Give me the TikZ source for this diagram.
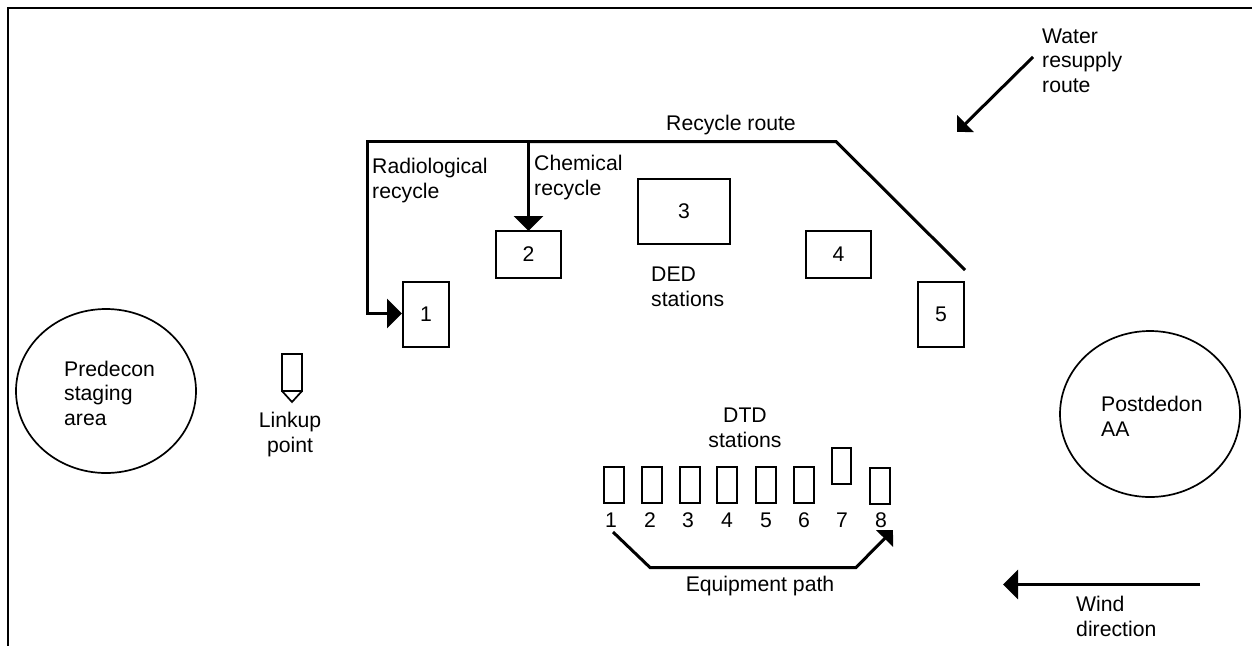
\documentclass[tikz,border=0pt]{standalone}
\usepackage{fontspec}
\setmainfont{Liberation Sans}
\usetikzlibrary{arrows.meta}
\tikzset{
  x=1pt,y=-1pt,
  every node/.style={font=\fontsize{21.2}{24.5}\selectfont},
  lab/.style={anchor=base west,align=left,inner sep=0pt},
  labc/.style={anchor=base,align=center,inner sep=0pt},
  boxc/.style={draw,line width=2pt,inner sep=0pt,outer sep=0pt},
  route/.style={line width=3pt,line join=miter},
  thinroute/.style={line width=3pt,line join=miter},
  bighead/.style={-{Triangle[length=15pt,width=29pt]}},
  smallhead/.style={-{Triangle[length=12pt,width=23pt]}},
}
\newcommand{\bx}[5]{\node[boxc,anchor=north west,minimum width=#4-#2,minimum height=#5-#3] (#1) at (#2,#3) {};}
\begin{document}
\begin{tikzpicture}
\useasboundingbox (0,0) rectangle (1252,646);
% frame
\coordinate (fa) at (1252,8); \coordinate (fb) at (8,8); \coordinate (fc) at (8,646);
\draw[line width=2pt] (fa) -- (fb) -- (fc);
% ellipses
\draw[line width=1.7pt] (106,391) ellipse [x radius=90,y radius=82];
\draw[line width=1.7pt] (1150,414) ellipse [x radius=90,y radius=83];
\node[lab] (pre) at (64,425) {Predecon\\staging\\area};
\node[lab] (post) at (1101,436) {Postdedon\\AA};
% linkup
\draw[line width=1.7pt] (282,354) rectangle (302,391);
\draw[line width=1.7pt] (282,391) -- (292,402) -- (302,391);
\node[labc] (link) at (290,452) {Linkup\\point};
% DED boxes
\bx{b1}{403}{282}{449}{347} \node at (b1) {1};
\bx{b2}{496}{231}{561}{278} \node at (b2) {2};
\bx{b3}{638}{179}{730}{244} \node at (b3) {3};
\bx{b4}{806}{231}{871}{278} \node at (b4) {4};
\bx{b5}{918}{282}{964}{347} \node at (b5) {5};
\node[lab] (ded) at (651,306) {DED\\stations};
% recycle routes
\coordinate (r0) at (367.5,141.5); \coordinate (r1) at (b2.north |- r0); \coordinate (r2) at (836,141.5); \coordinate (r3) at (965,270);
\coordinate (t1) at (402,313.5);
\draw[route] (r1) -- (r2) -- (r3);
\draw[route,bighead] (r1) -- (r0) |- (t1);
\draw[route,bighead] (r1) -- (b2.north);
\node[lab] at (372,198) {Radiological\\recycle};
\node[lab] at (534,195) {Chemical\\recycle};
\node[labc] at (731,130) {Recycle route};
% DTD
\node[labc] at (745,447) {DTD\\stations};
\foreach \n/\xa/\ya/\xb/\yb/\cx in {1/604/467/624/503/611,2/642/467/662/503/650,3/680/467/700/503/688,4/717/467/737/503/727,5/756/467/776/503/766,6/794/467/814/503/804,7/832/448/851/484/842,8/870/468/890/504/881}{
  \bx{d\n}{\xa}{\ya}{\xb}{\yb}
  \node[labc] (dn\n) at (\cx,527) {\n};
}
\coordinate (e0) at (613,532); \coordinate (e1) at (650,567.5); \coordinate (e2) at (856,567.5); \coordinate (e3) at (893,530);
\draw[thinroute,smallhead] (e0) -- (e1) -- (e2) -- (e3);
\node[labc] at (760,591) {Equipment path};
% water
\coordinate (w0) at (1033,57); \coordinate (w1) at (957,132);
\draw[thinroute,-{Triangle[length=12pt,width=23pt]}] (w0) -- (w1);
\node[lab] at (1042,92) {Water\\resupply\\route};
% wind
\coordinate (a0) at (1200,584.5); \coordinate (a1) at (1003,584.5);
\draw[thinroute,bighead] (a0) -- (a1);
\node[lab] at (1076,636) {Wind\\direction};
\end{tikzpicture}
\end{document}
